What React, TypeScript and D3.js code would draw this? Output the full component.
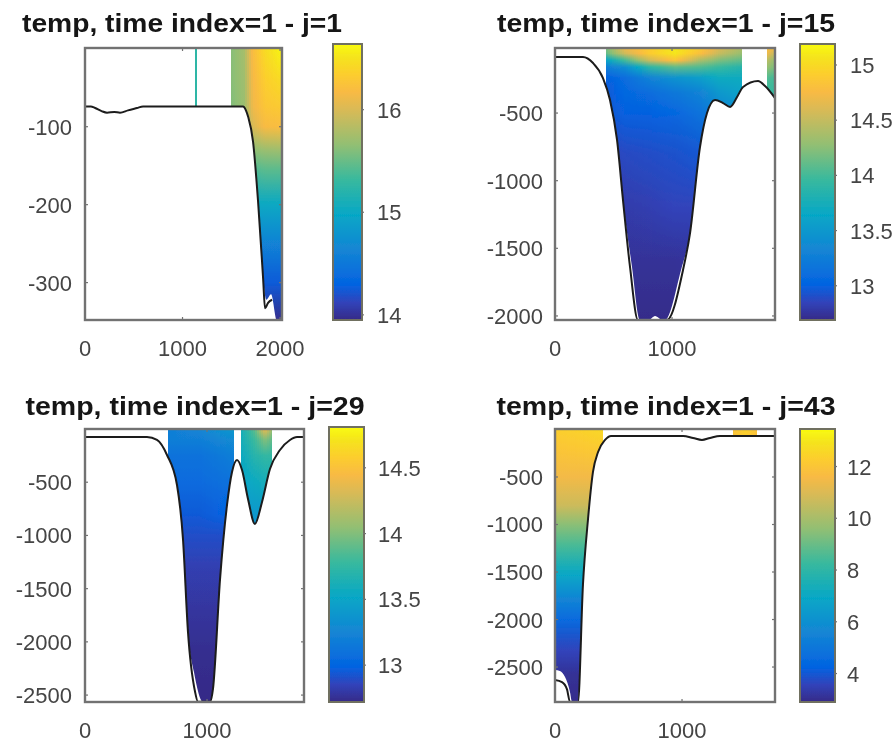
import * as d3 from "d3";

const width = 895;
const height = 742;

// parula colormap, sampled
const parulaPos = [0, 4, 8, 16, 24, 32, 40, 48, 52, 56, 60, 63].map(i => i / 63);
const parulaColors = ["#352a87", "#3243ba", "#0363e1", "#1485d4", "#06a7c6", "#38b99e", "#92bf73", "#d9ba56", "#f8ba44", "#fccd2e", "#f5e41d", "#f9fb0e"];

// j=1
const p1XTicks = [0, 1000, 2000];
const p1YTicks = [-100, -200, -300];
const p1CbTicks = [14, 15, 16];
const p1BathX = [0, 60, 103, 170, 226, 300, 359, 441, 533, 595, 1000, 1620, 1650, 1672, 1723, 1774, 1826, 1846, 1877, 1918];
const p1BathD = [-74, -74, -76, -80, -82, -81, -82, -79, -76, -74, -74, -74, -79, -87, -119, -195, -294, -333, -326, -322];
const p1FloorX = [0, 1000, 1620, 1650, 1672, 1723, 1774, 1826, 1860, 1908, 1969, 2030];
const p1FloorD = [-74, -74, -74, -79, -87, -119, -195, -294, -322, -315, -349, -349];
const p1Wet = [[1130, 1150], [1500, 2030]];
const p1NodeX = [1130, 1150, 1500, 1630, 1720, 1850, 2030];
const p1NodeD = [0, -40, -74, -100, -130, -155, -200, -250, -300, -349];
const p1Temps = [
  [15.25, 15.25, 15.62, 15.75, 16.2, 16.45, 16.62],
  [15.25, 15.25, 15.62, 15.72, 16.15, 16.35, 16.45],
  [15.25, 15.25, 15.6, 15.7, 16.12, 16.28, 16.32],
  [15.25, 15.25, 15.6, 15.68, 16.0, 16.18, 16.2],
  [15.25, 15.25, 15.55, 15.6, 15.65, 15.7, 15.72],
  [15.25, 15.25, 15.4, 15.4, 15.4, 15.45, 15.45],
  [15.0, 15.0, 15.0, 15.0, 15.0, 15.0, 15.0],
  [14.6, 14.6, 14.6, 14.6, 14.6, 14.6, 14.6],
  [14.25, 14.25, 14.25, 14.25, 14.25, 14.25, 14.25],
  [13.97, 13.97, 13.97, 13.97, 13.97, 13.97, 13.97],
];

// j=15
const p2XTicks = [0, 1000];
const p2YTicks = [-500, -1000, -1500, -2000];
const p2CbTicks = [13, 13.5, 14, 14.5, 15];
const p2BathX = [0, 239, 325, 410, 470, 530, 581, 641, 709, 957, 1094, 1154, 1239, 1299, 1368, 1436, 1496, 1556, 1607, 1735, 1795, 1880];
const p2BathD = [-86, -86, -130, -241, -404, -699, -1143, -1638, -2030, -2030, -1660, -1387, -751, -500, -404, -426, -455, -381, -307, -263, -300, -389];
const p2FloorX = [0, 239, 325, 410, 470, 530, 581, 658, 726, 800, 855, 920, 940, 1077, 1154, 1239, 1299, 1368, 1436, 1496, 1556, 1607, 1735, 1795, 1880];
const p2FloorD = [-86, -86, -130, -241, -404, -699, -1143, -1638, -2030, -2030, -2000, -2030, -2030, -1660, -1387, -751, -500, -404, -426, -455, -381, -307, -263, -300, -389];
const p2Wet = [[436, 1598], [1812, 1880]];
const p2NodeX = [436, 598, 812, 1026, 1239, 1410, 1598, 1812, 1880];
const p2NodeD = [-19, -60, -110, -160, -240, -350, -500, -800, -1200, -1600, -2030];
const p2Temps = [
  [14.2, 14.7, 14.9, 15.1, 14.9, 14.6, 14.4, 14.8, 14.7],
  [14.1, 14.55, 14.9, 15.08, 14.8, 14.5, 14.3, 14.7, 14.5],
  [13.6, 14.0, 14.55, 14.85, 14.4, 14.2, 14.1, 14.45, 14.3],
  [13.25, 13.4, 13.9, 14.1, 14.05, 13.95, 13.85, 14.3, 14.2],
  [13.0, 13.1, 13.3, 13.45, 13.55, 13.7, 13.7, 14.05, 14.0],
  [12.95, 13.05, 13.1, 13.2, 13.3, 13.5, 13.6, 13.95, 13.95],
  [12.95, 13.0, 13.0, 13.05, 13.15, 13.3, 13.4, 13.5, 13.5],
  [12.85, 12.88, 12.9, 12.92, 12.95, 13.0, 13.0, 13.0, 13.0],
  [12.8, 12.8, 12.82, 12.85, 12.85, 12.85, 12.85, 12.85, 12.85],
  [12.74, 12.74, 12.74, 12.74, 12.76, 12.76, 12.76, 12.76, 12.76],
  [12.7, 12.7, 12.7, 12.7, 12.7, 12.7, 12.7, 12.7, 12.7],
];

// j=29
const p3XTicks = [0, 1000];
const p3YTicks = [-500, -1000, -1500, -2000, -2500];
const p3CbTicks = [13, 13.5, 14, 14.5];
const p3BathX = [0, 508, 590, 672, 754, 803, 844, 902, 926, 1025, 1049, 1107, 1164, 1205, 1246, 1287, 1336, 1393, 1451, 1516, 1598, 1680, 1738, 1795];
const p3BathD = [-75, -75, -103, -244, -526, -1033, -1906, -2469, -2563, -2563, -2441, -1408, -714, -404, -291, -385, -657, -892, -685, -376, -197, -103, -75, -75];
const p3FloorX = [0, 508, 590, 672, 754, 803, 844, 893, 967, 1025, 1049, 1107, 1164, 1205, 1246, 1287, 1336, 1393, 1451, 1516, 1598, 1680, 1738, 1795];
const p3FloorD = [-75, -75, -103, -244, -526, -1033, -1906, -2282, -2563, -2563, -2441, -1408, -714, -404, -291, -385, -657, -892, -685, -376, -197, -103, -75, -75];
const p3Wet = [[680, 1221], [1279, 1533]];
const p3NodeX = [680, 943, 1221, 1279, 1393, 1475, 1533];
const p3NodeD = [0, -100, -250, -500, -800, -1000, -1300, -1700, -2100, -2565];
const p3Temps = [
  [13.2, 13.25, 13.4, 13.6, 13.9, 14.4, 14.1],
  [13.2, 13.2, 13.3, 13.6, 13.8, 14.0, 13.9],
  [13.1, 13.1, 13.2, 13.55, 13.7, 13.75, 13.75],
  [13.05, 13.05, 13.1, 13.5, 13.55, 13.6, 13.6],
  [12.95, 12.95, 13.0, 13.4, 13.4, 13.4, 13.4],
  [12.9, 12.9, 12.9, 13.3, 13.3, 13.3, 13.3],
  [12.83, 12.83, 12.83, 12.83, 12.83, 12.83, 12.83],
  [12.78, 12.78, 12.78, 12.78, 12.78, 12.78, 12.78],
  [12.74, 12.74, 12.74, 12.74, 12.74, 12.74, 12.74],
  [12.72, 12.72, 12.72, 12.72, 12.72, 12.72, 12.72],
];

// j=43
const p4XTicks = [0, 1000];
const p4YTicks = [-500, -1000, -1500, -2000, -2500];
const p4CbTicks = [4, 6, 8, 10, 12];
const p4BathX = [0, 55, 94, 118, 181, 220, 260, 299, 339, 394, 441, 1008, 1087, 1157, 1220, 1299, 1732];
const p4BathD = [-2637, -2658, -2732, -2868, -2868, -1637, -942, -447, -237, -110, -68, -68, -89, -110, -89, -68, -68];
const p4FloorX = [0, 39, 79, 118, 134, 181, 220, 260, 299, 339, 394, 441, 1008, 1087, 1157, 1220, 1299, 1732];
const p4FloorD = [-2532, -2542, -2605, -2763, -2868, -2868, -1637, -942, -447, -237, -110, -68, -68, -89, -110, -89, -68, -68];
const p4Wet = [[0, 380], [1400, 1590]];
const p4NodeX = [0, 200, 380, 1400, 1500, 1590];
const p4NodeD = [0, -200, -500, -800, -1000, -1220, -1530, -1795, -2005, -2320, -2580, -2868];
const p4Temps = [
  [12.3, 12.4, 12.6, 11.9, 12.4, 11.9],
  [12.0, 12.1, 12.2, 11.9, 12.1, 11.9],
  [11.5, 11.5, 11.5, 11.5, 11.5, 11.5],
  [10.7, 10.7, 10.7, 10.7, 10.7, 10.7],
  [9.5, 9.5, 9.5, 9.5, 9.5, 9.5],
  [8.5, 8.5, 8.5, 8.5, 8.5, 8.5],
  [6.9, 6.9, 6.9, 6.9, 6.9, 6.9],
  [5.5, 5.5, 5.5, 5.5, 5.5, 5.5],
  [4.5, 4.5, 4.5, 4.5, 4.5, 4.5],
  [3.6, 3.6, 3.6, 3.6, 3.6, 3.6],
  [3.1, 3.1, 3.1, 3.1, 3.1, 3.1],
  [2.95, 2.95, 2.95, 2.95, 2.95, 2.95],
];

const panels = [
  {
    id: "p1", title: "temp, time index=1 - j=1", titleX: 182, titleY: 32, titleW: 320,
    box: { l: 85, r: 282, t: 48, b: 320 }, xDom: [0, 2020], yDom: [-348, 1],
    cb: { l: 333, r: 362, t: 44, b: 320, lab: 377 }, cDom: [13.95, 16.64], labY: 72, labX: 348,
    xTicks: p1XTicks, yTicks: p1YTicks, cbTicks: p1CbTicks, bathX: p1BathX, bathD: p1BathD,
    floorX: p1FloorX, floorD: p1FloorD, wet: p1Wet, nodeX: p1NodeX, nodeD: p1NodeD, temps: p1Temps,
  },
  {
    id: "p2", title: "temp, time index=1 - j=15", titleX: 666, titleY: 32, titleW: 338,
    box: { l: 555, r: 775, t: 48, b: 320 }, xDom: [0, 1880], yDom: [-2030, -19],
    cb: { l: 800, r: 835, t: 44, b: 320, lab: 850 }, cDom: [12.69, 15.19], labY: 543, labX: 348,
    xTicks: p2XTicks, yTicks: p2YTicks, cbTicks: p2CbTicks, bathX: p2BathX, bathD: p2BathD,
    floorX: p2FloorX, floorD: p2FloorD, wet: p2Wet, nodeX: p2NodeX, nodeD: p2NodeD, temps: p2Temps,
  },
  {
    id: "p3", title: "temp, time index=1 - j=29", titleX: 195, titleY: 415, titleW: 339,
    box: { l: 85, r: 304, t: 429, b: 702 }, xDom: [0, 1795], yDom: [-2565, 0],
    cb: { l: 329, r: 364, t: 427, b: 702, lab: 378 }, cDom: [12.72, 14.81], labY: 72, labX: 730,
    xTicks: p3XTicks, yTicks: p3YTicks, cbTicks: p3CbTicks, bathX: p3BathX, bathD: p3BathD,
    floorX: p3FloorX, floorD: p3FloorD, wet: p3Wet, nodeX: p3NodeX, nodeD: p3NodeD, temps: p3Temps,
  },
  {
    id: "p4", title: "temp, time index=1 - j=43", titleX: 666, titleY: 415, titleW: 339,
    box: { l: 555, r: 775, t: 429, b: 702 }, xDom: [0, 1732], yDom: [-2868, 5],
    cb: { l: 800, r: 835, t: 429, b: 702, lab: 847 }, cDom: [2.9, 13.45], labY: 543, labX: 730,
    xTicks: p4XTicks, yTicks: p4YTicks, cbTicks: p4CbTicks, bathX: p4BathX, bathD: p4BathD,
    floorX: p4FloorX, floorD: p4FloorD, wet: p4Wet, nodeX: p4NodeX, nodeD: p4NodeD, temps: p4Temps,
  },
];

const parula = d3.scaleLinear<string>().domain(parulaPos).range(parulaColors).interpolate(d3.interpolateRgb);

const axisColor = "#727272";
const textColor = "#444";
const fontFamily = "'Liberation Sans', Arial, sans-serif";

function Panel({ p }: { p: (typeof panels)[number] }) {
  const { box, cb } = p;
  const x = d3.scaleLinear().domain(p.xDom).range([box.l, box.r]);
  const y = d3.scaleLinear().domain(p.yDom).range([box.b, box.t]);
  const cy = d3.scaleLinear().domain(p.cDom).range([cb.b, cb.t]);
  const cNorm = d3.scaleLinear().domain(p.cDom).range([0, 1]).clamp(true);

  const floor = d3.range(p.floorX.length);
  const waterArea = d3.area<number>()
    .x(i => x(p.floorX[i]))
    .y0(box.t)
    .y1(i => y(p.floorD[i]))
    .curve(d3.curveMonotoneX);
  const bathLine = d3.line<number>()
    .x(i => x(p.bathX[i]))
    .y(i => y(p.bathD[i]))
    .curve(d3.curveMonotoneX);

  // one scale per depth row, read across the x nodes (like shading interp)
  const rowScales = p.temps.map(row => d3.scaleLinear().domain(p.nodeX).range(row));

  // whole-pixel columns over the wet ranges, each with a vertical gradient through the depth rows
  const columns = p.wet.flatMap(([a, b]) => {
    const px0 = Math.round(x(a));
    const px1 = Math.max(px0 + 2, Math.round(x(b)));
    return d3.range(px0, px1, 2).map(px => ({ px, w: Math.min(2, px1 - px), val: x.invert(px + 1) }));
  });

  const yTop = y(p.nodeD[0]);
  const yBot = y(p.nodeD[p.nodeD.length - 1]);

  return (
    <g>
      <defs>
        <clipPath id={`${p.id}-water`}>
          <path d={waterArea(floor) ?? ""} />
        </clipPath>
        <clipPath id={`${p.id}-box`}>
          <rect x={box.l} y={box.t} width={box.r - box.l} height={box.b - box.t} />
        </clipPath>
        {columns.map((c, k) => (
          <linearGradient key={k} id={`${p.id}-col-${k}`} gradientUnits="userSpaceOnUse" x1={0} x2={0} y1={yTop} y2={yBot}>
            {p.nodeD.map((d, r) => (
              <stop
                key={r}
                offset={(y(d) - yTop) / (yBot - yTop)}
                stopColor={parula(cNorm(rowScales[r](c.val)))}
              />
            ))}
          </linearGradient>
        ))}
        <linearGradient id={`${p.id}-cbar`} x1={0} x2={0} y1={1} y2={0}>
          {parulaPos.map((t, i) => (
            <stop key={i} offset={t} stopColor={parulaColors[i]} />
          ))}
        </linearGradient>
      </defs>

      <text
        x={p.titleX}
        y={p.titleY}
        textAnchor="middle"
        fontSize={26}
        fontWeight="bold"
        fill="#151515"
        textLength={p.titleW}
        lengthAdjust="spacingAndGlyphs"
      >
        {p.title}
      </text>

      <g clipPath={`url(#${p.id}-water)`}>
        {columns.map((c, k) => (
          <rect
            key={k}
            x={c.px}
            y={box.t}
            width={c.w}
            height={box.b - box.t}
            fill={`url(#${p.id}-col-${k})`}
            shapeRendering="crispEdges"
          />
        ))}
      </g>

      <path
        d={bathLine(d3.range(p.bathX.length)) ?? ""}
        fill="none"
        stroke="#1c1c1c"
        strokeWidth={2}
        clipPath={`url(#${p.id}-box)`}
      />

      {/* axes box with inward ticks */}
      <rect x={box.l} y={box.t} width={box.r - box.l} height={box.b - box.t} fill="none" stroke={axisColor} strokeWidth={2.4} />
      {p.xTicks.map(t => (
        <g key={t}>
          <line x1={x(t)} x2={x(t)} y1={box.b} y2={box.b - 3} stroke={axisColor} strokeWidth={1.2} />
          <line x1={x(t)} x2={x(t)} y1={box.t} y2={box.t + 3} stroke={axisColor} strokeWidth={1.2} />
          <text x={x(t)} y={p.labX + 8} textAnchor="middle" fontSize={22} fill={textColor}>{t}</text>
        </g>
      ))}
      {p.yTicks.map(t => (
        <g key={t}>
          <line x1={box.l} x2={box.l + 3} y1={y(t)} y2={y(t)} stroke={axisColor} strokeWidth={1.2} />
          <line x1={box.r} x2={box.r - 3} y1={y(t)} y2={y(t)} stroke={axisColor} strokeWidth={1.2} />
          <text x={p.labY} y={y(t) + 8} textAnchor="end" fontSize={22} fill={textColor}>{t}</text>
        </g>
      ))}

      {/* colorbar */}
      <rect x={cb.l} y={cb.t} width={cb.r - cb.l} height={cb.b - cb.t} fill={`url(#${p.id}-cbar)`} stroke="#6f6f60" strokeWidth={2} />
      {p.cbTicks.map(t => (
        <g key={t}>
          <line x1={cb.r - 1} x2={cb.r + 2} y1={cy(t)} y2={cy(t)} stroke={axisColor} strokeWidth={1.2} />
          <text x={cb.lab} y={cy(t) + 8} fontSize={22} fill={textColor}>{t}</text>
        </g>
      ))}
    </g>
  );
}

export default function App() {
  return (
    <svg
      width={width}
      height={height}
      viewBox={`0 0 ${width} ${height}`}
      style={{ position: "absolute", left: 0, top: 0, display: "block", background: "#fff" }}
      fontFamily={fontFamily}
    >
      <defs>
        <filter id="soften" x="0" y="0" width="100%" height="100%">
          <feGaussianBlur stdDeviation={0.6} />
        </filter>
      </defs>
      <g filter="url(#soften)">
        <rect width={width} height={height} fill="#fff" />
        {panels.map(p => (
          <Panel key={p.id} p={p} />
        ))}
      </g>
    </svg>
  );
}
